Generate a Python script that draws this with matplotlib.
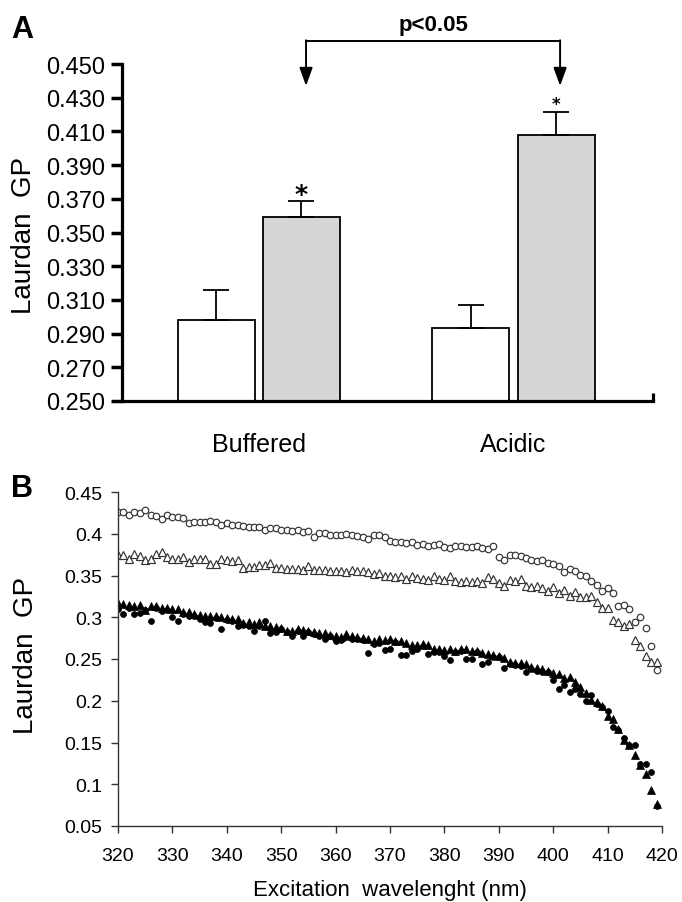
import matplotlib
matplotlib.use("Agg")
import matplotlib.pyplot as plt
import numpy as np

W, H = 682, 903
NARROW = ["Liberation Sans Narrow", "Liberation Sans", "DejaVu Sans"]
SANS = ["Liberation Sans", "DejaVu Sans"]

# ---------------------------------------------------------------- panel A data
groups = ["Buffered", "Acidic"]
control_gp = [0.298, 0.2935]
control_err = [0.018, 0.0136]
treated_gp = [0.359, 0.408]
treated_err = [0.0095, 0.0135]
a_ticks = [0.250, 0.270, 0.290, 0.310, 0.330, 0.350, 0.370, 0.390, 0.410, 0.430, 0.450]

# ---------------------------------------------------------------- panel B data
wavelength = list(range(320, 420))
open_circles = [
    0.426, 0.426, 0.423, 0.426, 0.425, 0.428, 0.423, 0.421, 0.418, 0.422,
    0.420, 0.420, 0.419, 0.413, 0.414, 0.414, 0.414, 0.415, 0.414, 0.411,
    0.413, 0.411, 0.410, 0.409, 0.408, 0.408, 0.408, 0.404, 0.407, 0.407,
    0.405, 0.404, 0.403, 0.404, 0.402, 0.403, 0.396, 0.401, 0.401, 0.399,
    0.399, 0.398, 0.400, 0.398, 0.397, 0.396, 0.394, 0.399, 0.398, 0.396,
    0.391, 0.390, 0.390, 0.389, 0.390, 0.387, 0.388, 0.385, 0.386, 0.388,
    0.384, 0.383, 0.385, 0.385, 0.384, 0.384, 0.385, 0.383, 0.382, 0.385,
    0.372, 0.369, 0.374, 0.374, 0.373, 0.371, 0.369, 0.367, 0.368, 0.365,
    0.364, 0.361, 0.354, 0.358, 0.355, 0.351, 0.350, 0.344, 0.339, 0.332,
    0.335, 0.329, 0.313, 0.315, 0.310, 0.294, 0.300, 0.287, 0.266, 0.237,
]
open_triangles = [
    0.374, 0.374, 0.370, 0.376, 0.373, 0.368, 0.370, 0.376, 0.378, 0.372,
    0.370, 0.370, 0.372, 0.366, 0.370, 0.370, 0.370, 0.364, 0.364, 0.370,
    0.368, 0.367, 0.369, 0.359, 0.360, 0.360, 0.363, 0.362, 0.365, 0.359,
    0.359, 0.358, 0.358, 0.358, 0.357, 0.361, 0.357, 0.357, 0.356, 0.355,
    0.355, 0.355, 0.354, 0.357, 0.355, 0.355, 0.354, 0.352, 0.353, 0.350,
    0.349, 0.348, 0.350, 0.346, 0.349, 0.347, 0.346, 0.345, 0.349, 0.346,
    0.345, 0.350, 0.343, 0.342, 0.343, 0.342, 0.343, 0.341, 0.348, 0.346,
    0.341, 0.338, 0.345, 0.343, 0.346, 0.337, 0.336, 0.337, 0.335, 0.331,
    0.336, 0.329, 0.333, 0.326, 0.330, 0.324, 0.324, 0.326, 0.318, 0.311,
    0.311, 0.297, 0.294, 0.289, 0.292, 0.273, 0.266, 0.254, 0.246, 0.247,
]
filled_triangles = [
    0.317, 0.316, 0.315, 0.313, 0.315, 0.309, 0.314, 0.314, 0.311, 0.311,
    0.310, 0.310, 0.306, 0.306, 0.304, 0.303, 0.302, 0.302, 0.301, 0.300,
    0.299, 0.298, 0.298, 0.293, 0.294, 0.292, 0.294, 0.290, 0.290, 0.288,
    0.287, 0.284, 0.284, 0.286, 0.285, 0.284, 0.282, 0.281, 0.281, 0.279,
    0.278, 0.276, 0.280, 0.277, 0.276, 0.275, 0.274, 0.271, 0.274, 0.273,
    0.274, 0.272, 0.272, 0.269, 0.267, 0.267, 0.268, 0.267, 0.262, 0.262,
    0.261, 0.262, 0.260, 0.262, 0.262, 0.259, 0.259, 0.257, 0.256, 0.255,
    0.253, 0.251, 0.246, 0.245, 0.245, 0.244, 0.240, 0.239, 0.238, 0.236,
    0.233, 0.232, 0.227, 0.228, 0.222, 0.217, 0.209, 0.201, 0.198, 0.194,
    0.182, 0.178, 0.166, 0.153, 0.147, 0.135, 0.123, 0.112, 0.093, 0.076,
]
filled_circles = [
    0.310, 0.304, 0.311, 0.304, 0.305, 0.309, 0.296, 0.311, 0.308, 0.309,
    0.300, 0.295, 0.304, 0.302, 0.301, 0.298, 0.294, 0.293, 0.299, 0.286,
    0.297, 0.296, 0.289, 0.291, 0.289, 0.283, 0.290, 0.296, 0.281, 0.282,
    0.286, 0.282, 0.277, 0.284, 0.278, 0.282, 0.280, 0.277, 0.274, 0.277,
    0.272, 0.273, 0.276, 0.274, 0.274, 0.273, 0.257, 0.268, 0.269, 0.261,
    0.262, 0.270, 0.255, 0.255, 0.260, 0.262, 0.266, 0.256, 0.258, 0.258,
    0.254, 0.249, 0.258, 0.259, 0.250, 0.250, 0.258, 0.244, 0.247, 0.252,
    0.252, 0.239, 0.244, 0.243, 0.242, 0.234, 0.238, 0.236, 0.234, 0.234,
    0.225, 0.214, 0.219, 0.210, 0.214, 0.208, 0.200, 0.207, 0.196, 0.192,
    0.188, 0.169, 0.165, 0.155, 0.147, 0.147, 0.124, 0.124, 0.115, 0.074,
]
b_xticks = list(range(320, 421, 10))
b_yticks = [0.05, 0.10, 0.15, 0.20, 0.25, 0.30, 0.35, 0.40, 0.45]
b_ylabels = ["0.05", "0.1", "0.15", "0.2", "0.25", "0.3", "0.35", "0.4", "0.45"]

fig = plt.figure(figsize=(W / 100, H / 100), dpi=100)
fig.patch.set_facecolor("white")


def box(left, top, right, bottom):
    return [left / W, 1 - bottom / H, (right - left) / W, (bottom - top) / H]


# ------------------------------------------------------------------- panel A
axA = fig.add_axes(box(122, 65, 653, 402))
x = np.arange(len(groups))
off, bw = 0.167, 0.3025
err_kw = dict(ecolor="black", elinewidth=1.3, capsize=9.5, capthick=1.3)
axA.bar(x - off, control_gp, bw, color="white", edgecolor="black", lw=1.3,
        yerr=[[0, 0], control_err], error_kw=err_kw, zorder=2)
axA.bar(x + off, treated_gp, bw, color="#d6d6d6", edgecolor="black", lw=1.3,
        yerr=[[0, 0], treated_err], error_kw=err_kw, zorder=2)
axA.set_ylim(0.25, 0.45)
axA.set_xlim(-0.538, 1.548)
axA.spines[["top", "right"]].set_visible(False)
for s in ("left", "bottom"):
    axA.spines[s].set_linewidth(2.3)
axA.set_yticks(a_ticks)
axA.set_yticklabels([f"{t:.3f}" for t in a_ticks], family=NARROW, fontsize=17)
axA.tick_params(axis="y", length=8, width=2.5, pad=4)
axA.set_xticks([1.548])
axA.set_xticklabels([""])
axA.tick_params(axis="x", which="major", direction="in", length=6, width=2.3)
axA.set_xticks(x, minor=True)
axA.set_xticklabels(groups, minor=True, family=NARROW, fontsize=18)
axA.tick_params(axis="x", which="minor", length=0, pad=22)

star_size = [18, 12]
for i in range(len(groups)):
    axA.text(x[i] + off, treated_gp[i] + treated_err[i] + 0.0045, "*",
             ha="center", va="center", fontsize=star_size[i], fontweight="bold")

# significance bracket with arrows
xl, xr = x[0] + off + 0.018, x[1] + off + 0.016
yb, ytip = 0.4637, 0.437
axA.plot([xl, xr], [yb, yb], color="black", lw=1.4, clip_on=False)
for xa in (xl, xr):
    axA.annotate("", xy=(xa, ytip), xytext=(xa, yb + 0.0004),
                 arrowprops=dict(arrowstyle="-|>,head_length=0.55,head_width=0.2",
                                 color="black", lw=1.4, shrinkA=0, shrinkB=0,
                                 mutation_scale=20),
                 annotation_clip=False)
axA.text((xl + xr) / 2, 0.4737, "p<0.05", ha="center", va="center",
         fontsize=16, fontweight="bold", family=SANS)

# ------------------------------------------------------------------- panel B
axB = fig.add_axes(box(118, 493, 662, 827))
axB.plot(wavelength, open_circles, ls="none", marker="o", ms=4.7,
         mfc="white", mec="#333333", mew=0.85)
axB.plot(wavelength, open_triangles, ls="none", marker="^", ms=5.3,
         mfc="white", mec="#333333", mew=0.85)
axB.plot(wavelength, filled_triangles, ls="none", marker="^", ms=5.2,
         mfc="black", mec="black", mew=0.5)
axB.plot(wavelength, filled_circles, ls="none", marker="o", ms=4.3,
         mfc="black", mec="black", mew=0.5)
axB.set_xlim(320, 420)
axB.set_ylim(0.05, 0.45)
axB.spines[["top", "right"]].set_visible(False)
for s in ("left", "bottom"):
    axB.spines[s].set_linewidth(1.0)
    axB.spines[s].set_color("#333333")
axB.set_xticks(b_xticks)
axB.set_xticklabels([str(t) for t in b_xticks], family=SANS, fontsize=14)
axB.set_yticks(b_yticks)
axB.set_yticklabels(b_ylabels, family=SANS, fontsize=14)
axB.tick_params(axis="x", length=5, width=1, color="#333333", pad=10)
axB.tick_params(axis="y", length=5, width=1, color="#333333", pad=6)

# ------------------------------------------------------------------- labels
fig.text(11 / W, 1 - 38 / H, "A", fontsize=22, fontweight="bold", family=SANS,
         va="baseline")
fig.text(11 / W, 1 - 497 / H, "B", fontsize=22, fontweight="bold", family=SANS,
         va="baseline")
fig.text(24 / W, 1 - 235 / H, "Laurdan  GP", rotation=90, fontsize=20,
         family=SANS, ha="center", va="center")
fig.text(26 / W, 1 - 655 / H, "Laurdan  GP", rotation=90, fontsize=20,
         family=SANS, ha="center", va="center")
fig.text(390 / W, 1 - 896 / H, "Excitation  wavelenght (nm)", fontsize=16,
         family=SANS, ha="center", va="baseline")

fig.savefig("out.png", dpi=100, facecolor="white")
